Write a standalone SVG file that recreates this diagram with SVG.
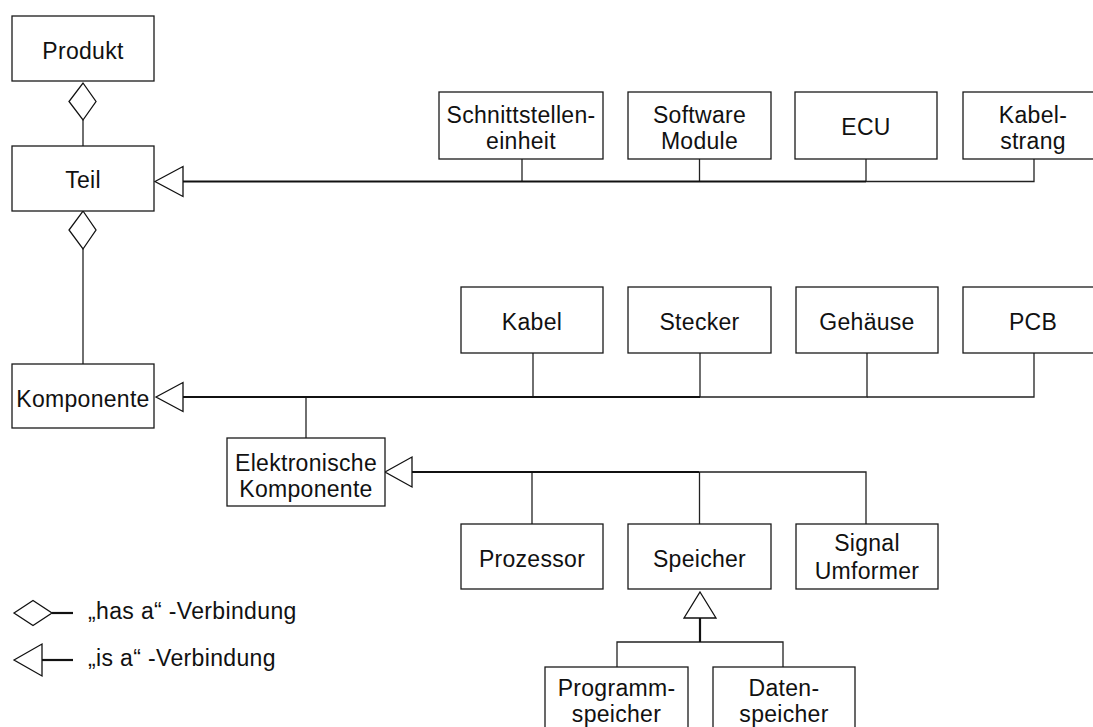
<svg xmlns="http://www.w3.org/2000/svg" width="1093" height="727" viewBox="0 0 1093 727">
  <style>
    .box { fill: #ffffff; stroke: #1a1a1a; stroke-width: 1.3; }
    .lbl { font-family: "Liberation Sans", Arial, sans-serif; font-size: 23px; letter-spacing: 0.3px; fill: #111111; text-anchor: middle; }
    .leg { font-family: "Liberation Sans", Arial, sans-serif; font-size: 23px; letter-spacing: 0.35px; fill: #111111; }
    .stem { fill: none; stroke: #222222; stroke-width: 1.3; }
    .bus { fill: none; stroke: #111111; stroke-width: 2.2; }
    .head { fill: #ffffff; stroke: #111111; stroke-width: 1.3; }
  </style>

  <rect width="1093" height="727" fill="#ffffff"/>

  <!-- connectors -->
  <g id="connectors">
    <!-- has-a: Produkt <> Teil -->
    <line class="stem" x1="83" y1="120" x2="83" y2="146"/>
    <polygon class="head" points="83,83 96,101.5 83,120 69,101.5"/>
    <!-- has-a: Teil <> Komponente -->
    <line class="stem" x1="83" y1="249" x2="83" y2="364"/>
    <polygon class="head" points="83,211 96,230 83,249 69,230"/>

    <!-- is-a: subtypes of Teil -->
    <polyline class="stem" points="522,159 522,181.5"/>
    <polyline class="stem" points="699.5,159 699.5,181.5"/>
    <polyline class="stem" points="866,159 866,181.5"/>
    <polyline class="stem" points="1034,159 1034,181.5 866,181.5"/>
    <line class="bus" x1="183" y1="181.5" x2="866" y2="181.5"/>
    <polygon class="head" points="155,181.5 183,166.5 183,196.5"/>

    <!-- is-a: subtypes of Komponente -->
    <polyline class="stem" points="533,353 533,397"/>
    <polyline class="stem" points="700,353 700,397"/>
    <polyline class="stem" points="867,353 867,397 700,397"/>
    <polyline class="stem" points="1034,353 1034,397 867,397"/>
    <polyline class="stem" points="306,397 306,438"/>
    <line class="bus" x1="183" y1="397" x2="700" y2="397"/>
    <polygon class="head" points="156,397 183,382.5 183,411.5"/>

    <!-- is-a: subtypes of Elektronische Komponente -->
    <polyline class="stem" points="532,524 532,472"/>
    <polyline class="stem" points="699.5,524 699.5,472"/>
    <polyline class="stem" points="866,524 866,472 699.5,472"/>
    <line class="bus" x1="412" y1="472" x2="699.5" y2="472"/>
    <polygon class="head" points="385,472 412,457 412,487"/>

    <!-- is-a: subtypes of Speicher -->
    <polyline class="stem" points="617,667 617,642 783,642 783,667"/>
    <line class="bus" x1="700" y1="618" x2="700" y2="642"/>
    <polygon class="head" points="700,592 716,618 684,618"/>
  </g>

  <g id="produkt">
    <rect class="box" x="12" y="16" width="142" height="65"/>
    <text class="lbl" x="83" y="59">Produkt</text>
  </g>
  <g id="teil">
    <rect class="box" x="12" y="146" width="142" height="65"/>
    <text class="lbl" x="83" y="188">Teil</text>
  </g>
  <g id="komponente">
    <rect class="box" x="12" y="364" width="142" height="64"/>
    <text class="lbl" x="83" y="407">Komponente</text>
  </g>

  <g id="schnittstelleneinheit">
    <rect class="box" x="439" y="92" width="164" height="67"/>
    <text class="lbl" x="521" y="123">Schnittstellen-</text>
    <text class="lbl" x="521" y="149">einheit</text>
  </g>
  <g id="software-module">
    <rect class="box" x="628" y="92" width="143" height="67"/>
    <text class="lbl" x="699.5" y="123">Software</text>
    <text class="lbl" x="699.5" y="149">Module</text>
  </g>
  <g id="ecu">
    <rect class="box" x="795" y="92" width="142" height="67"/>
    <text class="lbl" x="866" y="135">ECU</text>
  </g>
  <g id="kabelstrang">
    <rect class="box" x="963" y="92" width="142" height="67"/>
    <text class="lbl" x="1033" y="123">Kabel-</text>
    <text class="lbl" x="1033" y="149">strang</text>
  </g>

  <g id="kabel">
    <rect class="box" x="461" y="287" width="142" height="66"/>
    <text class="lbl" x="532" y="330">Kabel</text>
  </g>
  <g id="stecker">
    <rect class="box" x="628" y="287" width="143" height="66"/>
    <text class="lbl" x="699.5" y="330">Stecker</text>
  </g>
  <g id="gehaeuse">
    <rect class="box" x="796" y="287" width="142" height="66"/>
    <text class="lbl" x="867" y="330">Gehäuse</text>
  </g>
  <g id="pcb">
    <rect class="box" x="963" y="287" width="142" height="66"/>
    <text class="lbl" x="1033" y="330">PCB</text>
  </g>

  <g id="elektronische-komponente">
    <rect class="box" x="227" y="438" width="158" height="68"/>
    <text class="lbl" x="306" y="471">Elektronische</text>
    <text class="lbl" x="306" y="497">Komponente</text>
  </g>

  <g id="prozessor">
    <rect class="box" x="461" y="524" width="142" height="65"/>
    <text class="lbl" x="532" y="567">Prozessor</text>
  </g>
  <g id="speicher">
    <rect class="box" x="628" y="524" width="143" height="65"/>
    <text class="lbl" x="699.5" y="567">Speicher</text>
  </g>
  <g id="signal-umformer">
    <rect class="box" x="796" y="524" width="142" height="65"/>
    <text class="lbl" x="867" y="551">Signal</text>
    <text class="lbl" x="867" y="579">Umformer</text>
  </g>

  <g id="programmspeicher">
    <rect class="box" x="545" y="667" width="143" height="80"/>
    <text class="lbl" x="616.5" y="696">Programm-</text>
    <text class="lbl" x="616.5" y="722">speicher</text>
  </g>
  <g id="datenspeicher">
    <rect class="box" x="713" y="667" width="142" height="80"/>
    <text class="lbl" x="784" y="696">Daten-</text>
    <text class="lbl" x="784" y="722">speicher</text>
  </g>

  <!-- legend -->
  <g id="legend">
    <polygon class="head" points="14,613 33,600.5 52,613 33,625.5"/>
    <line class="bus" x1="52" y1="613" x2="73" y2="613"/>
    <text class="leg" x="88" y="619">„has a“ -Verbindung</text>
    <polygon class="head" points="14,660 42,644 42,676"/>
    <line class="bus" x1="42" y1="660" x2="73" y2="660"/>
    <text class="leg" x="88" y="666">„is a“ -Verbindung</text>
  </g>
</svg>
